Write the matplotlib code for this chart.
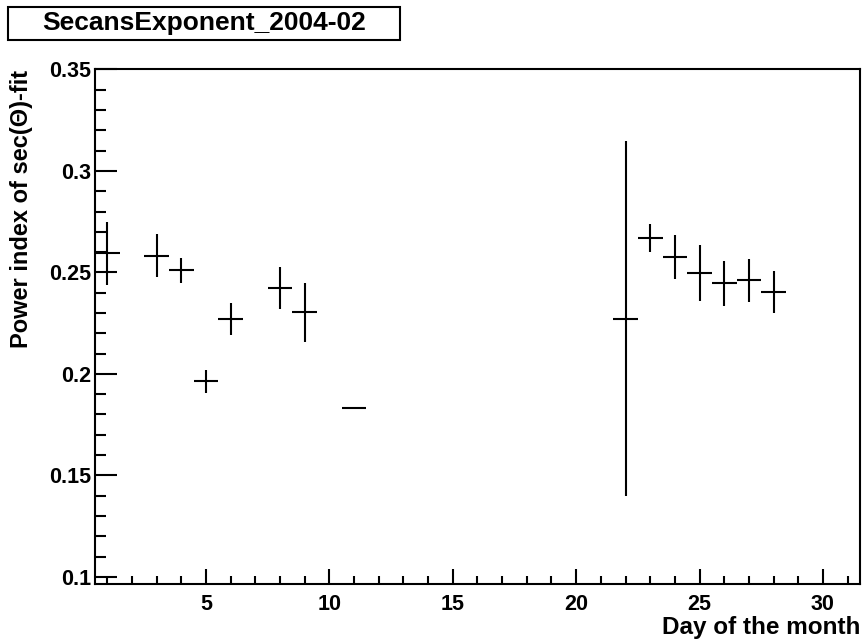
import numpy as np
import matplotlib as mpl
mpl.use("Agg")
import matplotlib.pyplot as plt
from matplotlib.patches import Rectangle
from matplotlib.ticker import MultipleLocator

# daily fit results
days = [1, 3, 4, 5, 6, 8, 9, 11, 22, 23, 24, 25, 26, 27, 28]
power_index = [0.2595, 0.2582, 0.2510, 0.1963, 0.2271, 0.2423, 0.2303, 0.1833,
               0.2271, 0.2669, 0.2576, 0.2497, 0.2446, 0.2461, 0.2402]
power_err = [0.0155, 0.0105, 0.0060, 0.0055, 0.0080, 0.0103, 0.0146, 0.0,
             0.0875, 0.0070, 0.0110, 0.0137, 0.0110, 0.0106, 0.0104]
bin_half_width = 0.5

title = "SecansExponent_2004-02"
xlabel = "Day of the month"
ylabel = "Power index of sec(\u0398)-fit"

plt.rcParams['font.family'] = ['Liberation Sans', 'DejaVu Sans']
plt.rcParams['font.weight'] = 'bold'

fig = plt.figure(figsize=(8.63, 6.41), dpi=100)
ax = fig.add_axes([0.110, 0.089, 0.8865, 0.8026])

ax.errorbar(days, power_index, yerr=power_err, xerr=bin_half_width,
            fmt='none', ecolor='black', elinewidth=1.5, capsize=0)

ax.set_xlim(0.5, 31.5)
ax.set_ylim(0.0965, 0.35)

ax.xaxis.set_major_locator(MultipleLocator(5))
ax.xaxis.set_minor_locator(MultipleLocator(1))
ax.yaxis.set_major_locator(MultipleLocator(0.05))
ax.yaxis.set_minor_locator(MultipleLocator(0.01))
ax.yaxis.set_major_formatter(mpl.ticker.FuncFormatter(lambda v, p: ('%.2f' % v).rstrip('0')))

ax.tick_params(axis='both', which='both', direction='in', width=1.5,
               top=False, right=False, labelsize=15.5)
ax.tick_params(axis='x', which='major', length=11, pad=7)
ax.tick_params(axis='x', which='minor', length=5.5)
ax.tick_params(axis='y', which='major', length=15.5, pad=3)
ax.tick_params(axis='y', which='minor', length=8)
for lab in ax.get_xticklabels() + ax.get_yticklabels():
    lab.set_fontweight('bold')

for s in ax.spines.values():
    s.set_linewidth(1.5)

ax.set_xlabel(xlabel, fontsize=17.5, fontweight='bold', loc='right', labelpad=1)
ax.set_ylabel(ylabel, fontsize=17, fontweight='bold', loc='top', labelpad=11)

# title box in the top-left corner
box = Rectangle((0.0093, 0.9376), 0.4542, 0.0515, transform=fig.transFigure,
                fill=False, edgecolor='black', linewidth=1.5)
fig.patches.append(box)
fig.text(0.0093 + 0.4542 / 2, 0.9376 + 0.0515 / 2, title, ha='center', va='center',
         fontsize=19, fontweight='bold')

fig.savefig("out.png", dpi=100)
